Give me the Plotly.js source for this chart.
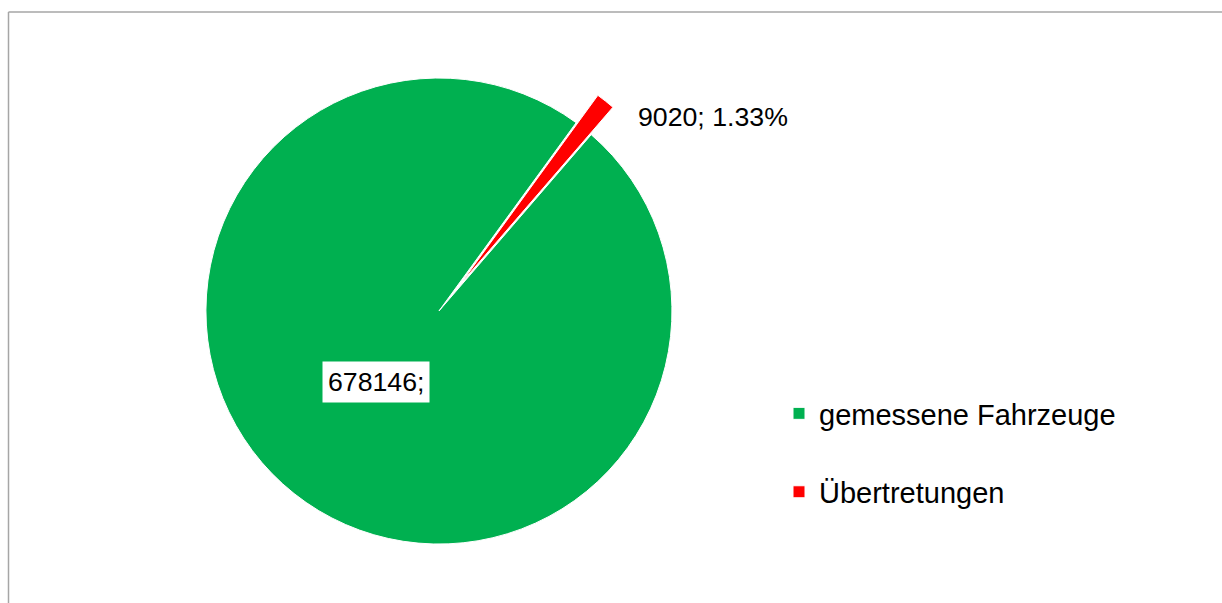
<!DOCTYPE html>
<html>
<head>
<meta charset="utf-8">
<script src="https://cdn.plot.ly/plotly-3.0.1.min.js"></script>
<style>
html, body { margin: 0; padding: 0; background: #fff; }
#chart { width: 1222px; height: 603px; }
</style>
</head>
<body>
<div id="chart"></div>
<script>
// Data
const categories = ["gemessene Fahrzeuge", "Übertretungen"];
const values = [678146, 9020];
const percentLabels = ["", "1.33%"];
const colors = ["#00B050", "#FF0000"];

const W = 1222, H = 603;
const px = x => x / W;
const py = y => (H - y) / H;

const trace = {
  type: "pie",
  labels: categories.map(c => c + "<br> "),
  values: values,
  sort: false,
  direction: "clockwise",
  rotation: 40.8,
  pull: [0, 0.15],
  marker: { colors: colors, line: { color: "#FFFFFF", width: 1 } },
  textinfo: "none",
  hoverinfo: "label+value",
  domain: { x: [0.0792, 0.6392], y: [0.0398, 0.9286] }
};

const layout = {
  width: W,
  height: H,
  margin: { l: 0, r: 0, t: 0, b: 0 },
  paper_bgcolor: "#FFFFFF",
  font: { family: "Liberation Sans, Arial, sans-serif", size: 26.7, color: "#000000" },
  showlegend: true,
  legend: {
    x: px(779), y: py(388), xanchor: "left", yanchor: "top",
    valign: "top",
    font: { size: 29, color: "#000000" },
    bgcolor: "rgba(0,0,0,0)"
  },
  annotations: [
    {
      xref: "paper", yref: "paper",
      x: px(375.5), y: py(381.5), xanchor: "center", yanchor: "middle",
      text: values[0] + ";",
      showarrow: false,
      bgcolor: "#FFFFFF",
      borderpad: 5,
      font: { size: 26.7, color: "#000000" }
    },
    {
      xref: "paper", yref: "paper",
      x: px(712.5), y: py(117), xanchor: "center", yanchor: "middle",
      text: values[1] + "; " + percentLabels[1],
      showarrow: false,
      font: { size: 26.7, color: "#000000" }
    }
  ],
  shapes: [
    { type: "line", xref: "paper", yref: "paper", x0: px(8.5), x1: px(1222), y0: py(12), y1: py(12),
      line: { color: "#A6A6A6", width: 1.5 } },
    { type: "line", xref: "paper", yref: "paper", x0: px(8.5), x1: px(8.5), y0: py(12), y1: py(603),
      line: { color: "#A6A6A6", width: 1.5 } }
  ]
};

Plotly.newPlot("chart", [trace], layout, { displayModeBar: false, staticPlot: true });
</script>
</body>
</html>
